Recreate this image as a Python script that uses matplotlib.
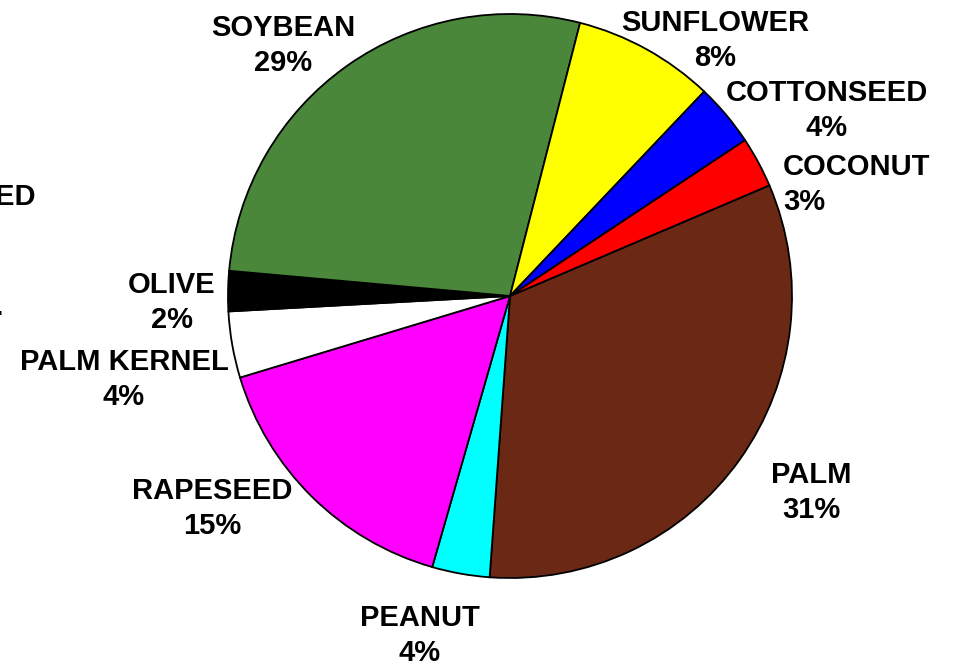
import matplotlib.pyplot as plt

# Oil share data (slice sizes, printed labels as shown)
oils = ["PALM", "PEANUT", "RAPESEED", "PALM KERNEL", "OLIVE",
        "SOYBEAN", "SUNFLOWER", "COTTONSEED", "COCONUT"]
shares = [32.6, 3.3, 15.9, 3.8, 2.3, 27.6, 8.1, 3.6, 2.9]
pct_labels = ["31%", "4%", "15%", "4%", "2%", "29%", "8%", "4%", "3%"]
colors = ["#6B2915", "#00FFFF", "#FF00FF", "#FFFFFF", "#000000",
          "#4A873A", "#FFFF00", "#0000FF", "#FF0000"]

# label positions in pixel space (x, y from top) and alignment
label_pos = {
    "PALM": (811, 475, "center"),
    "PEANUT": (420, 618, "center"),
    "RAPESEED": (212, 491, "center"),
    "PALM KERNEL": (124, 362, "center"),
    "OLIVE": (172, 285, "center"),
    "SOYBEAN": (283, 28, "center"),
    "SUNFLOWER": (715, 23, "center"),
    "COTTONSEED": (827, 93, "center"),
    "COCONUT": (783, 167, "left"),
}

W, H = 956, 671
fig = plt.figure(figsize=(W / 100, H / 100), dpi=100)
ax = fig.add_axes([0, 0, 1, 1])

ax.pie(shares, colors=colors, startangle=23.1, counterclock=False,
       center=(510, H - 296), radius=282,
       wedgeprops=dict(edgecolor="black", linewidth=1.3))

# pie() resets the limits, so set the pixel frame afterwards
ax.set_xlim(0, W)
ax.set_ylim(0, H)
ax.set_aspect("equal")
ax.axis("off")

font = dict(family="Liberation Sans", weight="bold", fontsize=21, color="black")
for name, pct in zip(oils, pct_labels):
    x, y, ha = label_pos[name]
    ax.text(x, H - y, name, ha=ha, va="center", **font)
    ax.text(x, H - y - 35, pct, ha=ha, va="center", **font)

# clipped fragments at the left edge of the original slide
ax.text(-5, H - 197, "ED", ha="left", va="center", **font)
ax.text(-7, H - 313, "-", ha="left", va="center", **font)

fig.savefig("out.png", dpi=100)
